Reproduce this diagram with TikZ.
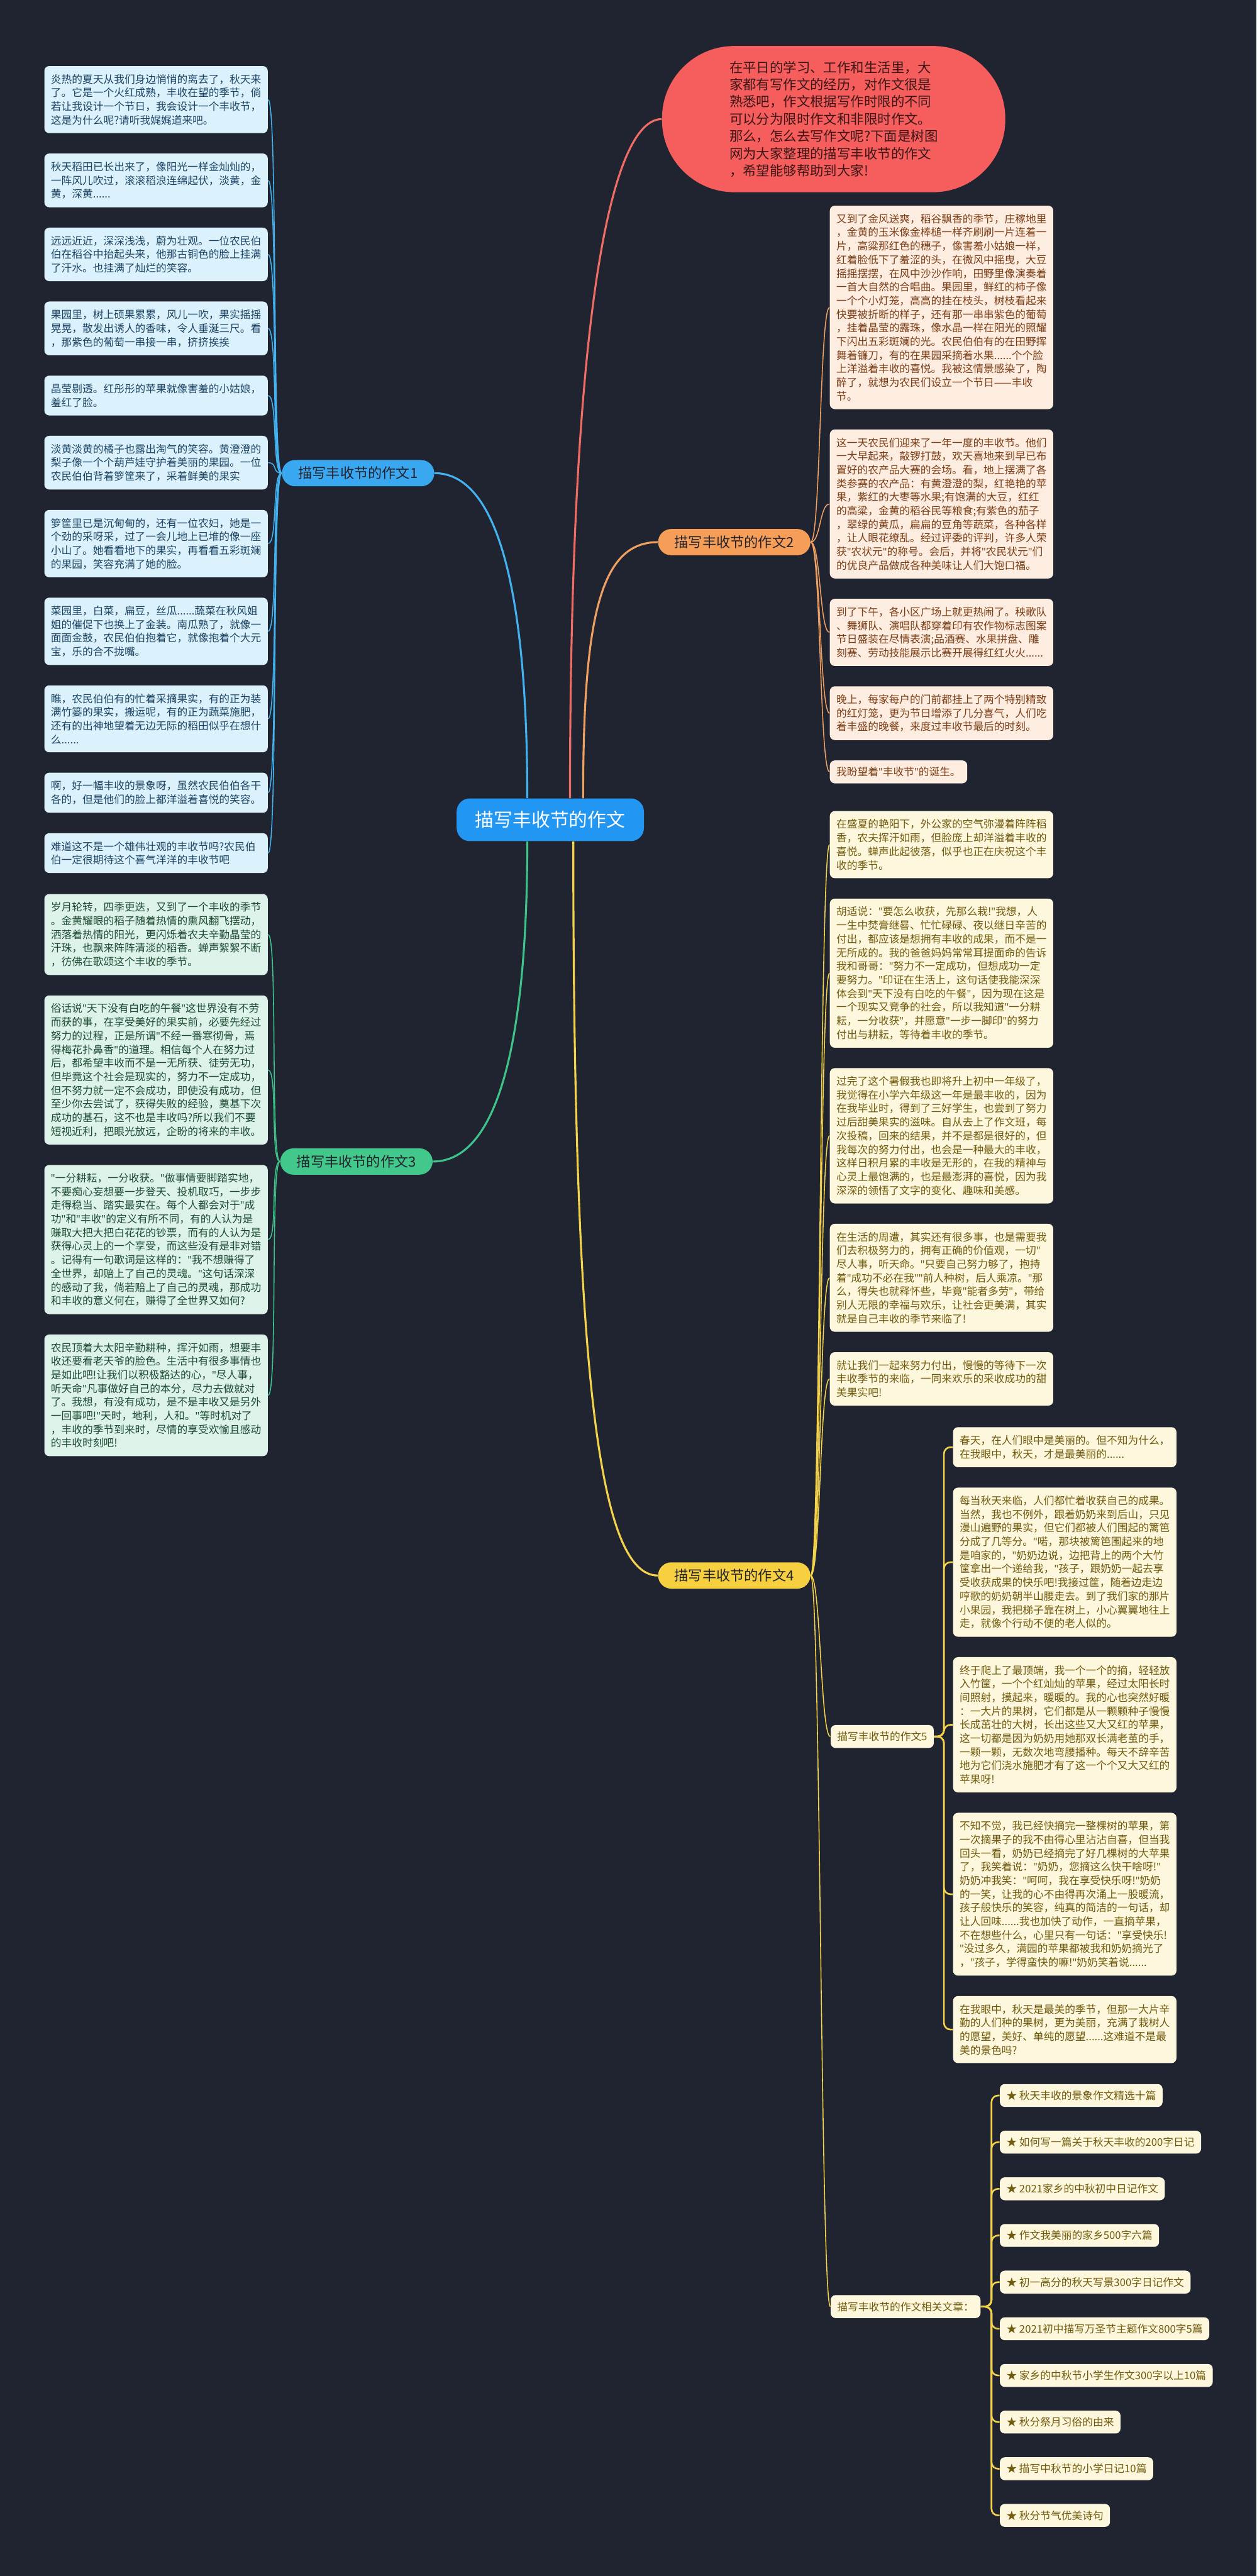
\documentclass[tikz,border=0pt]{standalone}
\usepackage{fontspec}
\setmainfont{Noto Sans CJK SC}
\newfontfamily\westfont{Noto Sans}
\usetikzlibrary{positioning}

\definecolor{bgnavy}{RGB}{32,36,48}
\definecolor{hubblue}{RGB}{33,150,243}
\definecolor{introred}{RGB}{246,94,94}
\definecolor{introtext}{RGB}{60,22,22}
\definecolor{lineblue}{RGB}{66,178,240}
\definecolor{linered}{RGB}{240,108,100}
\definecolor{lineorange}{RGB}{240,160,96}
\definecolor{linegreen}{RGB}{62,196,138}
\definecolor{lineyellow}{RGB}{244,210,74}
\definecolor{fillblue}{RGB}{219,241,252}
\definecolor{fillorange}{RGB}{253,236,224}
\definecolor{fillgreen}{RGB}{221,243,233}
\definecolor{fillyellow}{RGB}{253,247,221}
\definecolor{textblue}{RGB}{28,68,98}
\definecolor{textorange}{RGB}{122,62,22}
\definecolor{textgreen}{RGB}{28,74,50}
\definecolor{textyellow}{RGB}{112,90,12}
\definecolor{topicblue}{RGB}{58,168,240}
\definecolor{topicorange}{RGB}{246,158,88}
\definecolor{topicgreen}{RGB}{66,200,138}
\definecolor{topicyellow}{RGB}{246,208,62}
\definecolor{topictext}{RGB}{34,34,44}

\newcommand{\leaffont}{\fontsize{6.4pt}{8.3pt}\selectfont}
\newcommand{\topicfont}{\fontsize{8.5pt}{10pt}\selectfont}
\newcommand{\hubfont}{\fontsize{11.4pt}{13pt}\selectfont}
\newcommand{\introfont}{\fontsize{8.2pt}{10.5pt}\selectfont}
\newcommand{\dq}{{\westfont\char34}}

\tikzset{
  leaf/.style={rounded corners=3pt, inner xsep=4pt, inner ysep=5pt, align=left, font=\leaffont},
  wide/.style={text width=128pt},
  bluebox/.style={leaf, wide, fill=fillblue, text=textblue},
  orangebox/.style={leaf, fill=fillorange, text=textorange},
  greenbox/.style={leaf, wide, fill=fillgreen, text=textgreen},
  yellowbox/.style={leaf, fill=fillyellow, text=textyellow},
  tag/.style={yellowbox, inner ysep=4pt},
  topic/.style={rounded corners=8pt, inner xsep=10pt, inner ysep=4pt, minimum height=16pt, font=\topicfont, text=topictext},
  hub/.style={rounded corners=8pt, fill=hubblue, text=white, font=\hubfont, minimum width=114pt, minimum height=26pt},
  intro/.style={rounded corners=44pt, fill=introred, text=introtext, font=\introfont, align=left, minimum width=209pt, minimum height=89pt},
  branch/.style={line width=1.2pt},
  twig/.style={line width=0.6pt},
  elbow/.style={lineyellow, line width=1pt, rounded corners=4pt},
}

\begin{document}
\catcode`\"=\active
\let"=\dq
\begin{tikzpicture}[x=1pt, y=-1pt]
\useasboundingbox (0,0) rectangle (765,1568);
\fill[bgnavy] (0,0) rectangle (765,1568);

% Central topic
\node[hub] (hub) at (335,499) {描写丰收节的作文};

% Intro bubble
\node[intro] (intro) at (507.5,72.5) {在平日的学习、工作和生活里，大\\家都有写作文的经历，对作文很是\\熟悉吧，作文根据写作时限的不同\\可以分为限时作文和非限时作文。\\那么，怎么去写作文呢?下面是树图\\网为大家整理的描写丰收节的作文\\，希望能够帮助到大家!};

% Essay 1
\node[topic, fill=topicblue] (t1) at (218,288) {描写丰收节的作文1};
\node[bluebox, anchor=north] (a1) at (95,40) {炎热的夏天从我们身边悄悄的离去了，秋天来\\了。它是一个火红成熟，丰收在望的季节，倘\\若让我设计一个节日，我会设计一个丰收节，\\这是为什么呢?请听我娓娓道来吧。};
\node[bluebox, below=12pt of a1] (a2) {秋天稻田已长出来了，像阳光一样金灿灿的，\\一阵风儿吹过，滚滚稻浪连绵起伏，淡黄，金\\黄，深黄......};
\node[bluebox, below=12pt of a2] (a3) {远远近近，深深浅浅，蔚为壮观。一位农民伯\\伯在稻谷中抬起头来，他那古铜色的脸上挂满\\了汗水。也挂满了灿烂的笑容。};
\node[bluebox, below=12pt of a3] (a4) {果园里，树上硕果累累，风儿一吹，果实摇摇\\晃晃，散发出诱人的香味，令人垂涎三尺。看\\，那紫色的葡萄一串接一串，挤挤挨挨};
\node[bluebox, below=12pt of a4] (a5) {晶莹剔透。红彤彤的苹果就像害羞的小姑娘，\\羞红了脸。};
\node[bluebox, below=12pt of a5] (a6) {淡黄淡黄的橘子也露出淘气的笑容。黄澄澄的\\梨子像一个个葫芦娃守护着美丽的果园。一位\\农民伯伯背着箩筐来了，采着鲜美的果实};
\node[bluebox, below=12pt of a6] (a7) {箩筐里已是沉甸甸的，还有一位农妇，她是一\\个劲的采呀采，过了一会儿地上已堆的像一座\\小山了。她看看地下的果实，再看看五彩斑斓\\的果园，笑容充满了她的脸。};
\node[bluebox, below=12pt of a7] (a8) {菜园里，白菜，扁豆，丝瓜......蔬菜在秋风姐\\姐的催促下也换上了金装。南瓜熟了，就像一\\面面金鼓，农民伯伯抱着它，就像抱着个大元\\宝，乐的合不拢嘴。};
\node[bluebox, below=12pt of a8] (a9) {瞧，农民伯伯有的忙着采摘果实，有的正为装\\满竹篓的果实，搬运呢，有的正为蔬菜施肥，\\还有的出神地望着无边无际的稻田似乎在想什\\么......};
\node[bluebox, below=12pt of a9] (a10) {啊，好一幅丰收的景象呀，虽然农民伯伯各干\\各的，但是他们的脸上都洋溢着喜悦的笑容。};
\node[bluebox, below=12pt of a10] (a11) {难道这不是一个雄伟壮观的丰收节吗?农民伯\\伯一定很期待这个喜气洋洋的丰收节吧};

% Essay 2
\node[topic, fill=topicorange] (t2) at (447,330) {描写丰收节的作文2};
\node[orangebox, wide, anchor=north west] (b1) at (505,125) {又到了金风送爽，稻谷飘香的季节，庄稼地里\\，金黄的玉米像金棒槌一样齐刷刷一片连着一\\片，高粱那红色的穗子，像害羞小姑娘一样，\\红着脸低下了羞涩的头，在微风中摇曳，大豆\\摇摇摆摆，在风中沙沙作响，田野里像演奏着\\一首大自然的合唱曲。果园里，鲜红的柿子像\\一个个小灯笼，高高的挂在枝头，树枝看起来\\快要被折断的样子，还有那一串串紫色的葡萄\\，挂着晶莹的露珠，像水晶一样在阳光的照耀\\下闪出五彩斑斓的光。农民伯伯有的在田野挥\\舞着镰刀，有的在果园采摘着水果......个个脸\\上洋溢着丰收的喜悦。我被这情景感染了，陶\\醉了，就想为农民们设立一个节日——丰收\\节。};
\node[orangebox, wide, below=12pt of b1.south west, anchor=north west] (b2) {这一天农民们迎来了一年一度的丰收节。他们\\一大早起来，敲锣打鼓，欢天喜地来到早已布\\置好的农产品大赛的会场。看，地上摆满了各\\类参赛的农产品：有黄澄澄的梨，红艳艳的苹\\果，紫红的大枣等水果;有饱满的大豆，红红\\的高粱，金黄的稻谷民等粮食;有紫色的茄子\\，翠绿的黄瓜，扁扁的豆角等蔬菜，各种各样\\，让人眼花缭乱。经过评委的评判，许多人荣\\获"农状元"的称号。会后，并将"农民状元"们\\的优良产品做成各种美味让人们大饱口福。};
\node[orangebox, wide, below=12pt of b2.south west, anchor=north west] (b3) {到了下午，各小区广场上就更热闹了。秧歌队\\、舞狮队、演唱队都穿着印有农作物标志图案\\节日盛装在尽情表演;品酒赛、水果拼盘、雕\\刻赛、劳动技能展示比赛开展得红红火火......};
\node[orangebox, wide, below=12pt of b3.south west, anchor=north west] (b4) {晚上，每家每户的门前都挂上了两个特别精致\\的红灯笼，更为节日增添了几分喜气，人们吃\\着丰盛的晚餐，来度过丰收节最后的时刻。};
\node[orangebox, inner ysep=4pt, below=12pt of b4.south west, anchor=north west] (b5) {我盼望着"丰收节"的诞生。};

% Essay 3
\node[topic, fill=topicgreen] (t3) at (217,707) {描写丰收节的作文3};
\node[greenbox, anchor=north] (c1) at (95,544) {岁月轮转，四季更迭，又到了一个丰收的季节\\。金黄耀眼的稻子随着热情的熏风翻飞摆动，\\洒落着热情的阳光，更闪烁着农夫辛勤晶莹的\\汗珠，也飘来阵阵清淡的稻香。蝉声絮絮不断\\，彷佛在歌颂这个丰收的季节。};
\node[greenbox, below=12pt of c1] (c2) {俗话说"天下没有白吃的午餐"这世界没有不劳\\而获的事，在享受美好的果实前，必要先经过\\努力的过程，正是所谓"不经一番寒彻骨，焉\\得梅花扑鼻香"的道理。相信每个人在努力过\\后，都希望丰收而不是一无所获、徒劳无功，\\但毕竟这个社会是现实的，努力不一定成功，\\但不努力就一定不会成功，即使没有成功，但\\至少你去尝试了，获得失败的经验，奠基下次\\成功的基石，这不也是丰收吗?所以我们不要\\短视近利，把眼光放远，企盼的将来的丰收。};
\node[greenbox, below=12pt of c2] (c3) {"一分耕耘，一分收获。"做事情要脚踏实地，\\不要痴心妄想要一步登天、投机取巧，一步步\\走得稳当、踏实最实在。每个人都会对于"成\\功"和"丰收"的定义有所不同，有的人认为是\\赚取大把大把白花花的钞票，而有的人认为是\\获得心灵上的一个享受，而这些没有是非对错\\。记得有一句歌词是这样的："我不想赚得了\\全世界，却赔上了自己的灵魂。"这句话深深\\的感动了我，倘若赔上了自己的灵魂，那成功\\和丰收的意义何在，赚得了全世界又如何?};
\node[greenbox, below=12pt of c3] (c4) {农民顶着大太阳辛勤耕种，挥汗如雨，想要丰\\收还要看老天爷的脸色。生活中有很多事情也\\是如此吧!让我们以积极豁达的心，"尽人事，\\听天命"凡事做好自己的本分，尽力去做就对\\了。我想，有没有成功，是不是丰收又是另外\\一回事吧!"天时，地利，人和。"等时机对了\\，丰收的季节到来时，尽情的享受欢愉且感动\\的丰收时刻吧!};

% Essay 4
\node[topic, fill=topicyellow] (t4) at (447,959) {描写丰收节的作文4};
\node[yellowbox, wide, anchor=north west] (d1) at (505,493.5) {在盛夏的艳阳下，外公家的空气弥漫着阵阵稻\\香，农夫挥汗如雨，但脸庞上却洋溢着丰收的\\喜悦。蝉声此起彼落，似乎也正在庆祝这个丰\\收的季节。};
\node[yellowbox, wide, below=12pt of d1.south west, anchor=north west] (d2) {胡适说："要怎么收获，先那么栽!"我想，人\\一生中焚膏继晷、忙忙碌碌、夜以继日辛苦的\\付出，都应该是想拥有丰收的成果，而不是一\\无所成的。我的爸爸妈妈常常耳提面命的告诉\\我和哥哥："努力不一定成功，但想成功一定\\要努力。"印证在生活上，这句话使我能深深\\体会到"天下没有白吃的午餐"，因为现在这是\\一个现实又竞争的社会，所以我知道"一分耕\\耘，一分收获"，并愿意"一步一脚印"的努力\\付出与耕耘，等待着丰收的季节。};
\node[yellowbox, wide, below=12pt of d2.south west, anchor=north west] (d3) {过完了这个暑假我也即将升上初中一年级了，\\我觉得在小学六年级这一年是最丰收的，因为\\在我毕业时，得到了三好学生，也尝到了努力\\过后甜美果实的滋味。自从去上了作文班，每\\次投稿，回来的结果，并不是都是很好的，但\\我每次的努力付出，也会是一种最大的丰收，\\这样日积月累的丰收是无形的，在我的精神与\\心灵上最饱满的，也是最澎湃的喜悦，因为我\\深深的领悟了文字的变化、趣味和美感。};
\node[yellowbox, wide, below=12pt of d3.south west, anchor=north west] (d4) {在生活的周遭，其实还有很多事，也是需要我\\们去积极努力的，拥有正确的价值观，一切"\\尽人事，听天命。"只要自己努力够了，抱持\\着"成功不必在我""前人种树，后人乘凉。"那\\么，得失也就释怀些，毕竟"能者多劳"，带给\\别人无限的幸福与欢乐，让社会更美满，其实\\就是自己丰收的季节来临了!};
\node[yellowbox, wide, below=12pt of d4.south west, anchor=north west] (d5) {就让我们一起来努力付出，慢慢的等待下一次\\丰收季节的来临，一同来欢乐的采收成功的甜\\美果实吧!};

% Essay 5 (under 4)
\node[tag, anchor=west] (s5) at (505.5,1057) {描写丰收节的作文5};
\node[yellowbox, wide, anchor=north west] (k1) at (580,868.5) {春天，在人们眼中是美丽的。但不知为什么，\\在我眼中，秋天，才是最美丽的......};
\node[yellowbox, wide, below=12pt of k1] (k2) {每当秋天来临，人们都忙着收获自己的成果。\\当然，我也不例外，跟着奶奶来到后山，只见\\漫山遍野的果实，但它们都被人们围起的篱笆\\分成了几等分。"喏，那块被篱笆围起来的地\\是咱家的，"奶奶边说，边把背上的两个大竹\\筐拿出一个递给我，"孩子，跟奶奶一起去享\\受收获成果的快乐吧!我接过筐，随着边走边\\哼歌的奶奶朝半山腰走去。到了我们家的那片\\小果园，我把梯子靠在树上，小心翼翼地往上\\走，就像个行动不便的老人似的。};
\node[yellowbox, wide, below=12pt of k2] (k3) {终于爬上了最顶端，我一个一个的摘，轻轻放\\入竹筐，一个个红灿灿的苹果，经过太阳长时\\间照射，摸起来，暖暖的。我的心也突然好暖\\：一大片的果树，它们都是从一颗颗种子慢慢\\长成茁壮的大树，长出这些又大又红的苹果，\\这一切都是因为奶奶用她那双长满老茧的手，\\一颗一颗，无数次地弯腰播种。每天不辞辛苦\\地为它们浇水施肥才有了这一个个又大又红的\\苹果呀!};
\node[yellowbox, wide, below=12pt of k3] (k4) {不知不觉，我已经快摘完一整棵树的苹果，第\\一次摘果子的我不由得心里沾沾自喜，但当我\\回头一看，奶奶已经摘完了好几棵树的大苹果\\了，我笑着说："奶奶，您摘这么快干啥呀!"\\奶奶冲我笑："呵呵，我在享受快乐呀!"奶奶\\的一笑，让我的心不由得再次涌上一股暖流，\\孩子般快乐的笑容，纯真的简洁的一句话，却\\让人回味......我也加快了动作，一直摘苹果，\\不在想些什么，心里只有一句话："享受快乐!\\"没过多久，满园的苹果都被我和奶奶摘光了\\，"孩子，学得蛮快的嘛!"奶奶笑着说......};
\node[yellowbox, wide, below=12pt of k4] (k5) {在我眼中，秋天是最美的季节，但那一大片辛\\勤的人们种的果树，更为美丽，充满了栽树人\\的愿望，美好、单纯的愿望......这难道不是最\\美的景色吗?};

% Related articles
\node[tag, anchor=west] (rel) at (505.5,1404) {描写丰收节的作文相关文章：};
\foreach \t [count=\i] in {秋天丰收的景象作文精选十篇, 如何写一篇关于秋天丰收的200字日记, 2021家乡的中秋初中日记作文, 作文我美丽的家乡500字六篇, 初一高分的秋天写景300字日记作文, 2021初中描写万圣节主题作文800字5篇, 家乡的中秋节小学生作文300字以上10篇, 秋分祭月习俗的由来, 描写中秋节的小学日记10篇, 秋分节气优美诗句}
  \node[tag, anchor=west] (r\i) at (608.5,{1275.5+28.4*(\i-1)}) {★ \t};

% Main branches
\draw[lineblue, branch] ([xshift=-14pt]hub.north) .. controls +(0,-120) and +(40,0) .. (t1.east);
\draw[linegreen, branch] ([xshift=-14pt]hub.south) .. controls +(0,120) and +(40,0) .. (t3.east);
\draw[linered, branch] ([xshift=12pt]hub.north) .. controls +(0,-300) and +(-30,0) .. (intro.west);
\draw[lineorange, branch] ([xshift=20pt]hub.north) .. controls +(0,-110) and +(-35,0) .. (t2.west);
\draw[lineyellow, branch] ([xshift=14pt]hub.south) .. controls +(0,330) and +(-35,0) .. (t4.west);

% Twigs
\foreach \n in {a1,a2,a3,a4,a5,a6,a7,a8,a9,a10,a11}
  \draw[lineblue, twig] (t1.west) .. controls +(-6,0) and +(6,0) .. (\n.east);
\foreach \n in {c1,c2,c3,c4}
  \draw[linegreen, twig] (t3.west) .. controls +(-6,0) and +(6,0) .. (\n.east);
\foreach \n in {b1,b2,b3,b4,b5}
  \draw[lineorange, twig] (t2.east) .. controls +(6,0) and +(-6,0) .. (\n.west);
\foreach \n in {d1,d2,d3,d4,d5,s5,rel}
  \draw[lineyellow, twig] (t4.east) .. controls +(6,0) and +(-6,0) .. (\n.west);
\foreach \n in {k1,k2,k3,k4,k5}
  \draw[elbow] (s5.east) -- ++(6,0) |- (\n.west);
\foreach \i in {1,...,10}
  \draw[elbow] (rel.east) -- ++(6.5,0) |- (r\i.west);
\end{tikzpicture}
\end{document}
